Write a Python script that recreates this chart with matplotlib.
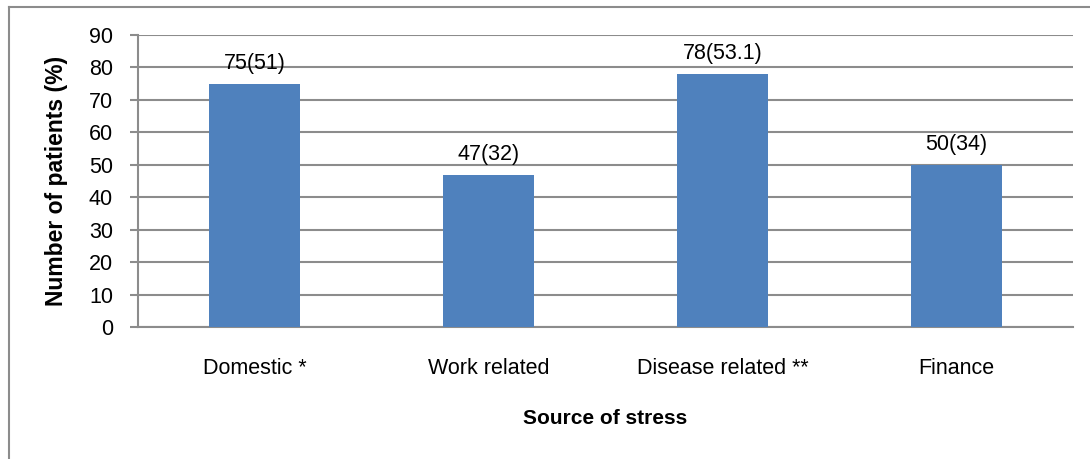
import matplotlib
matplotlib.use("Agg")
import matplotlib.pyplot as plt
from matplotlib.lines import Line2D

plt.rcParams['font.family'] = ['Liberation Sans', 'DejaVu Sans']

categories = ["Domestic *", "Work related", "Disease related **", "Finance"]
counts = [75, 47, 78, 50]
percents = ["51", "32", "53.1", "34"]
yticks = [0, 10, 20, 30, 40, 50, 60, 70, 80, 90]

W, H = 1090, 459
fig = plt.figure(figsize=(W / 100, H / 100), dpi=100)
ax = fig.add_axes([138 / W, 1 - 327 / H, (1073 - 138) / W, (327 - 35) / H])

bar_color = "#4F81BD"
grid_color = "#8C8C8C"
x = list(range(len(categories)))
ax.bar(x, counts, width=0.39, color=bar_color, zorder=3)
for xi, c, p in zip(x, counts, percents):
    ax.annotate(f"{c}({p})", (xi, c), xytext=(0, 7), textcoords="offset points",
                ha="center", va="bottom", fontsize=15.5, zorder=4)

ax.set_xlim(-0.5, len(categories) - 0.5)
ax.set_ylim(0, 90)
ax.set_yticks(yticks)
ax.set_xticks(x)
ax.set_xticklabels(categories, fontsize=15.5)
ax.tick_params(axis="x", length=0, pad=22)
ax.tick_params(axis="y", length=6, width=1.5, color=grid_color, labelsize=15.5, pad=12)

ax.yaxis.grid(True, color=grid_color, linewidth=1.5, zorder=0)
for side in ("top", "right"):
    ax.spines[side].set_visible(False)
for side in ("left", "bottom"):
    ax.spines[side].set_color(grid_color)
    ax.spines[side].set_linewidth(1.5)

ax.set_ylabel("Number of patients (%)", fontsize=16.5, fontweight="bold", labelpad=15)
ax.set_xlabel("Source of stress", fontsize=15, fontweight="bold", labelpad=22)

# chart-area frame
fig.add_artist(Line2D([9 / W, 1.0], [1 - 7 / H, 1 - 7 / H], transform=fig.transFigure,
                      color=grid_color, linewidth=1.5))
fig.add_artist(Line2D([9 / W, 9 / W], [0.0, 1 - 7 / H], transform=fig.transFigure,
                      color=grid_color, linewidth=1.5))

fig.savefig("out.png", dpi=100, facecolor="white")
